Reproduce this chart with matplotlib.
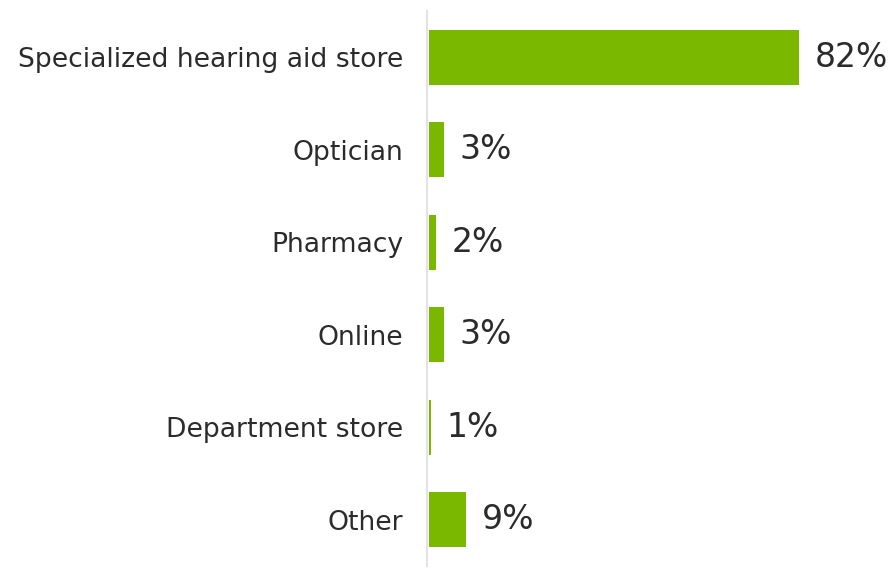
import matplotlib
matplotlib.use("Agg")
import matplotlib.pyplot as plt

categories = ["Specialized hearing aid store", "Optician", "Pharmacy", "Online",
              "Department store", "Other"]
values = [82.0, 3.3, 1.5, 3.3, 0.5, 8.2]
value_labels = ["82%", "3%", "2%", "3%", "1%", "9%"]

bar_color = "#7ab800"
text_color = "#2b2b2b"

fig = plt.figure(figsize=(8.94, 5.71), dpi=100)
ax = fig.add_axes([429 / 894, 5 / 571, 451 / 894, 555 / 571])

for s in ["top", "right", "bottom"]:
    ax.spines[s].set_visible(False)
ax.spines["left"].set_position(("outward", 1.2))
ax.spines["left"].set_color("#e3e3e3")
ax.spines["left"].set_linewidth(1.5)
ax.spines["left"].set_zorder(1)

y = list(range(len(categories)))
bars = ax.barh(y, values, height=0.59, color=bar_color, linewidth=0, zorder=3)
ax.set_ylim(len(categories) - 0.5, -0.5)
ax.set_xlim(0, 100)

ax.set_yticks(y)
ax.set_yticklabels(categories, fontsize=19.2, color=text_color)
ax.tick_params(axis="y", length=0, pad=17.5)
ax.set_xticks([])

for rect, lab in zip(bars, value_labels):
    ax.annotate(lab, xy=(rect.get_width(), rect.get_y() + rect.get_height() / 2),
                xytext=(11.2, 0), textcoords="offset points",
                va="center", ha="left", fontsize=23.8, color=text_color)

fig.savefig("out.png", dpi=100)
